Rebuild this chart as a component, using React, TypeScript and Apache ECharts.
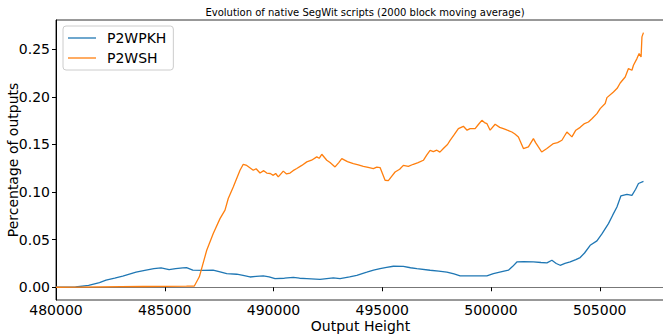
import React, { useEffect, useRef } from "react";
import * as echarts from "echarts";

const titleText = "Evolution of native SegWit scripts (2000 block moving average)";
const seriesNames = ["P2WPKH", "P2WSH"];
const xTicks = [480000, 485000, 490000, 495000, 500000, 505000];
const yTicks = [0, 0.05, 0.1, 0.15, 0.2, 0.25];

const p2wpkhHeights = [
  480000, 480500, 480900, 481500, 482000, 482300, 482700, 483070, 483680, 484140,
  484500, 484830, 485200, 485500, 485830, 486000, 486290, 486750, 487220, 487500,
  487850, 488310, 488600, 488920, 489200, 489530, 489800, 490070, 490500, 490910,
  491200, 491530, 492140, 492750, 493060, 493500, 493830, 494290, 494600, 494900,
  495200, 495510, 495970, 496300, 496590, 497200, 497600, 497970, 498300, 498580,
  499200, 499810, 500110, 500500, 500800, 501000, 501190, 501500, 501950, 502300,
  502570, 502800, 503000, 503180, 503400, 503640, 503900, 504100, 504300, 504560,
  504870, 505100, 505400, 505600, 505790, 505970, 506250, 506480, 506650, 506780,
  507010,
];
const p2wpkhValues = [
  0, 0, 0.0003, 0.002, 0.005, 0.0074, 0.0095, 0.0116, 0.0158, 0.018,
  0.0195, 0.0203, 0.0186, 0.0195, 0.0203, 0.0207, 0.018, 0.0178, 0.0179, 0.0165,
  0.0144, 0.0137, 0.0125, 0.0108, 0.0115, 0.0119, 0.011, 0.0091, 0.0095, 0.0105,
  0.0095, 0.0091, 0.0084, 0.0098, 0.0091, 0.011, 0.0126, 0.0158, 0.018, 0.0196,
  0.021, 0.0221, 0.022, 0.0205, 0.0196, 0.0179, 0.017, 0.0158, 0.014, 0.0119,
  0.012, 0.0119, 0.0144, 0.0165, 0.0179, 0.022, 0.0266, 0.027, 0.0266, 0.026,
  0.0256, 0.0284, 0.025, 0.0231, 0.025, 0.0266, 0.029, 0.0312, 0.036, 0.0441,
  0.0487, 0.056, 0.0669, 0.076, 0.0844, 0.0959, 0.0977, 0.0966, 0.103, 0.109,
  0.1113,
];

const p2wshHeights = [
  480000, 481000, 482000, 483000, 484000, 485000, 486000, 486360, 486590, 486930,
  487230, 487540, 487770, 487920, 488150, 488460, 488610, 488770, 489070, 489200,
  489380, 489550, 489690, 489850, 489990, 490100, 490220, 490450, 490600, 490760,
  490900, 491070, 491300, 491530, 491750, 491990, 492100, 492220, 492450, 492600,
  492830, 493000, 493140, 493400, 493670, 493900, 494130, 494350, 494590, 494750,
  494900, 495130, 495280, 495450, 495590, 495800, 495970, 496200, 496430, 496650,
  496890, 497050, 497200, 497350, 497510, 497650, 497810, 498000, 498120, 498300,
  498500, 498730, 498900, 499040, 499270, 499420, 499580, 499700, 499810, 499960,
  500190, 500400, 500570, 500750, 500960, 501100, 501260, 501490, 501720, 501950,
  502050, 502180, 502330, 502570, 502870, 503060, 503260, 503490, 503720, 503900,
  504100, 504300, 504480, 504640, 504870, 505020, 505250, 505330, 505630, 505800,
  505940, 506170, 506320, 506480, 506550, 506710, 506810, 506900, 506940, 507010,
];
const p2wshValues = [
  0, 0.0002, 0.0004, 0.0006, 0.0008, 0.001, 0.0012, 0.0013, 0.011, 0.0389,
  0.0564, 0.0721, 0.081, 0.0932, 0.1054, 0.1229, 0.1292, 0.128, 0.1229, 0.1245,
  0.12, 0.1225, 0.12, 0.1195, 0.1176, 0.1195, 0.1159, 0.122, 0.119, 0.12,
  0.1225, 0.1247, 0.128, 0.1317, 0.1335, 0.137, 0.1355, 0.1397, 0.1334, 0.131,
  0.1264, 0.131, 0.1352, 0.132, 0.13, 0.1285, 0.127, 0.126, 0.1247, 0.1262,
  0.1257, 0.1124, 0.112, 0.117, 0.1211, 0.124, 0.128, 0.127, 0.1292, 0.131,
  0.1334, 0.139, 0.1439, 0.1425, 0.144, 0.142, 0.1457, 0.15, 0.1544, 0.16,
  0.1667, 0.1691, 0.165, 0.1667, 0.1667, 0.171, 0.1754, 0.173, 0.172, 0.165,
  0.1712, 0.168, 0.1667, 0.165, 0.1631, 0.161, 0.1579, 0.1457, 0.1474, 0.1562,
  0.152, 0.1474, 0.1421, 0.1457, 0.151, 0.152, 0.1544, 0.1631, 0.158, 0.165,
  0.168, 0.172, 0.1736, 0.177, 0.1824, 0.1877, 0.193, 0.1992, 0.2052, 0.209,
  0.2146, 0.2209, 0.2297, 0.228, 0.2332, 0.2402, 0.2455, 0.242, 0.263, 0.2675,
];

const colors = ["#1f77b4", "#ff7f0e"];
const FONT = "DejaVu Sans";

export default function App() {
  const ref = useRef<HTMLDivElement>(null);
  useEffect(() => {
    if (!ref.current) return;
    const chart = echarts.init(ref.current, null, { renderer: "svg" });
    const zip = (xs: number[], ys: number[]) => xs.map((x, i) => [x, ys[i]]);
    chart.setOption({
      animation: false,
      backgroundColor: "#ffffff",
      title: {
        text: titleText,
        left: 360,
        textAlign: "center",
        top: 2,
        textStyle: { fontFamily: FONT, fontSize: 10, fontWeight: "normal", color: "#000" },
      },
      legend: {
        orient: "vertical",
        left: 63,
        top: 26,
        padding: [4, 7, 4, 5],
        itemGap: 4,
        itemWidth: 28,
        itemHeight: 1.3,
        icon: "rect",
        borderColor: "#cccccc",
        borderWidth: 1,
        borderRadius: 3,
        backgroundColor: "rgba(255,255,255,0.8)",
        textStyle: { fontFamily: FONT, fontSize: 14, color: "#000", lineHeight: 16, padding: [0, 0, 0, 6] },
        data: seriesNames,
      },
      grid: {
        left: 56,
        top: 20,
        width: 609,
        height: 280,
        show: true,
        borderColor: "#333",
        borderWidth: 1,
        backgroundColor: "transparent",
        containLabel: false,
        outerBoundsMode: "none",
      },
      xAxis: {
        type: "value",
        min: 480000,
        max: 508000,
        name: "Output Height",
        nameLocation: "middle",
        nameGap: 19,
        nameMoveOverlap: false,
        nameTextStyle: { fontFamily: FONT, fontSize: 14, color: "#000", lineHeight: 14 },
        splitLine: { show: false },
        axisLine: { show: true, lineStyle: { color: "#777", width: 1 } },
        axisTick: { show: true, length: 4, inside: false, customValues: xTicks, lineStyle: { color: "#000" } },
        axisLabel: {
          customValues: xTicks,
          margin: 4,
          fontFamily: FONT,
          fontSize: 14,
          lineHeight: 12,
          color: "#000",
          formatter: (v: number) => String(v),
        },
      },
      yAxis: {
        type: "value",
        min: -0.01337,
        max: 0.28075,
        name: "Percentage of outputs",
        nameLocation: "middle",
        nameGap: 36,
        nameMoveOverlap: false,
        nameRotate: 90,
        nameTextStyle: { fontFamily: FONT, fontSize: 14, color: "#000", lineHeight: 14 },
        splitLine: { show: false },
        axisLine: { show: true, lineStyle: { color: "#000", width: 1 } },
        axisTick: { show: true, length: 4, inside: false, customValues: yTicks, lineStyle: { color: "#000" } },
        axisLabel: {
          customValues: yTicks,
          margin: 6,
          fontFamily: FONT,
          fontSize: 14,
          color: "#000",
          formatter: (v: number) => v.toFixed(2),
        },
      },
      series: [
        {
          name: seriesNames[0],
          type: "line",
          data: zip(p2wpkhHeights, p2wpkhValues),
          showSymbol: false,
          symbol: "none",
          lineStyle: { color: colors[0], width: 1.3 },
          itemStyle: { color: colors[0] },
        },
        {
          name: seriesNames[1],
          type: "line",
          data: zip(p2wshHeights, p2wshValues),
          showSymbol: false,
          symbol: "none",
          lineStyle: { color: colors[1], width: 1.3 },
          itemStyle: { color: colors[1] },
        },
      ],
    });
    return () => chart.dispose();
  }, []);
  return <div ref={ref} style={{ width: 663, height: 336, position: "absolute", left: 0, top: 0 }} />;
}
